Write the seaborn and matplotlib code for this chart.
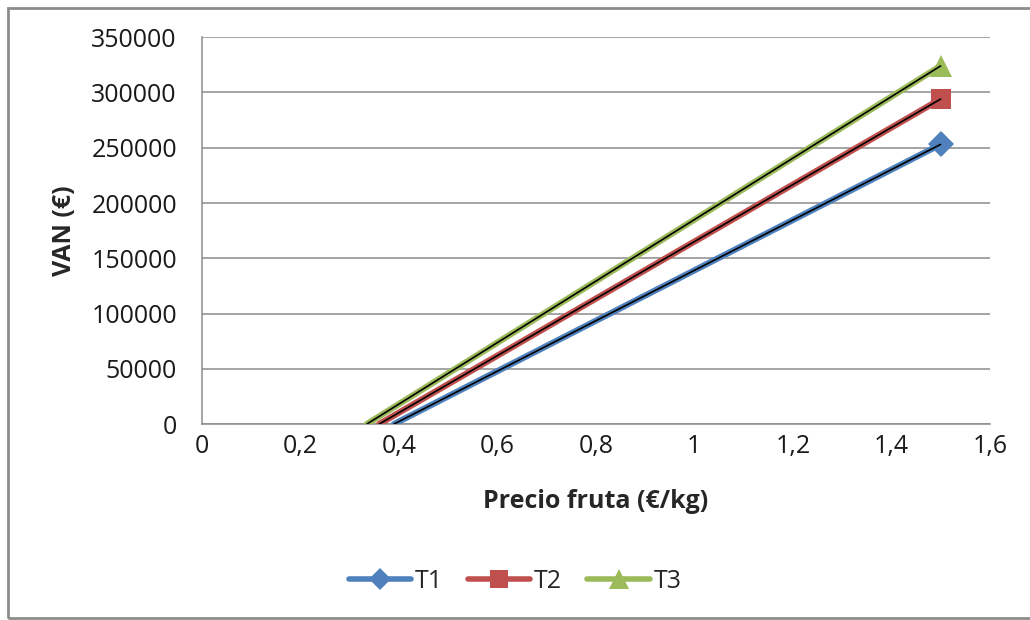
import matplotlib
matplotlib.use("Agg")
import matplotlib.pyplot as plt
import seaborn as sns
import pandas as pd
from matplotlib.patches import Rectangle
from matplotlib.lines import Line2D

sns.set_theme(style="white")
plt.rcParams['font.family'] = ['Open Sans', 'DejaVu Sans']

series = ["T1", "T2", "T3"]
precio_t1 = [0.39, 1.5]
precio_t2 = [0.36, 1.5]
precio_t3 = [0.335, 1.5]
van_t1 = [0, 253000]
van_t2 = [0, 294000]
van_t3 = [0, 324000]
x_ticks = [0, 0.2, 0.4, 0.6, 0.8, 1.0, 1.2, 1.4, 1.6]
x_tick_labels = ["0", "0,2", "0,4", "0,6", "0,8", "1", "1,2", "1,4", "1,6"]
y_ticks = [0, 50000, 100000, 150000, 200000, 250000, 300000, 350000]

colors = ["#4F81BD", "#C0504D", "#9BBB59"]
markers = ["D", "s", "^"]
msizes = [13, 15, 16]

df = pd.concat([
    pd.DataFrame({"precio": p, "van": v, "serie": s})
    for p, v, s in zip([precio_t1, precio_t2, precio_t3], [van_t1, van_t2, van_t3], series)
])

fig = plt.figure(figsize=(10.3, 6.2), dpi=100)
ax = fig.add_axes([0.196, 0.316, 0.765, 0.624])

for s, c, m, ms in zip(series, colors, markers, msizes):
    d = df[df.serie == s]
    sns.lineplot(data=d, x="precio", y="van", ax=ax, color=c, lw=4.5,
                 marker=m, markersize=ms, markevery=[1], markeredgewidth=0,
                 legend=False, zorder=3)
    sns.lineplot(data=d, x="precio", y="van", ax=ax, color="black", lw=1.2,
                 legend=False, zorder=4)

ax.set_xlim(0, 1.6)
ax.set_ylim(0, 350000)
ax.set_xticks(x_ticks)
ax.set_xticklabels(x_tick_labels)
ax.set_yticks(y_ticks)
ax.set_yticklabels([str(v) for v in y_ticks])
ax.grid(axis="y", color="#8c8c8c", lw=1.1)
ax.grid(axis="x", visible=False)
for sp in ["top", "right"]:
    ax.spines[sp].set_visible(False)
for sp in ["left", "bottom"]:
    ax.spines[sp].set_color("#8c8c8c")
    ax.spines[sp].set_linewidth(1.1)
ax.tick_params(axis="both", labelsize=18, colors="#8c8c8c", labelcolor="#1a1a1a",
               length=6, width=1.1, direction="out")
ax.tick_params(axis="x", pad=1)
ax.tick_params(axis="y", pad=12)
ax.set_xlabel("Precio fruta (€/kg)", fontsize=18, fontweight="bold", labelpad=22)
ax.set_ylabel("VAN (€)", fontsize=18, fontweight="bold", labelpad=10)

handles = [Line2D([0], [0], color=c, lw=4, marker=m, markersize=ms * 0.9,
                  markeredgewidth=0) for c, m, ms in zip(colors, markers, msizes)]
fig.legend(handles, series, loc="center", bbox_to_anchor=(0.5, 0.062), ncol=3,
           frameon=False, fontsize=18, handlelength=2.5, handletextpad=0.15,
           columnspacing=1.0)

fig.patches.append(Rectangle((8 / 1030, 2 / 620), 1.1, 1 - 10 / 620,
                             transform=fig.transFigure, fill=False,
                             edgecolor="#8c8c8c", lw=2))

fig.savefig("out.png", dpi=100)
